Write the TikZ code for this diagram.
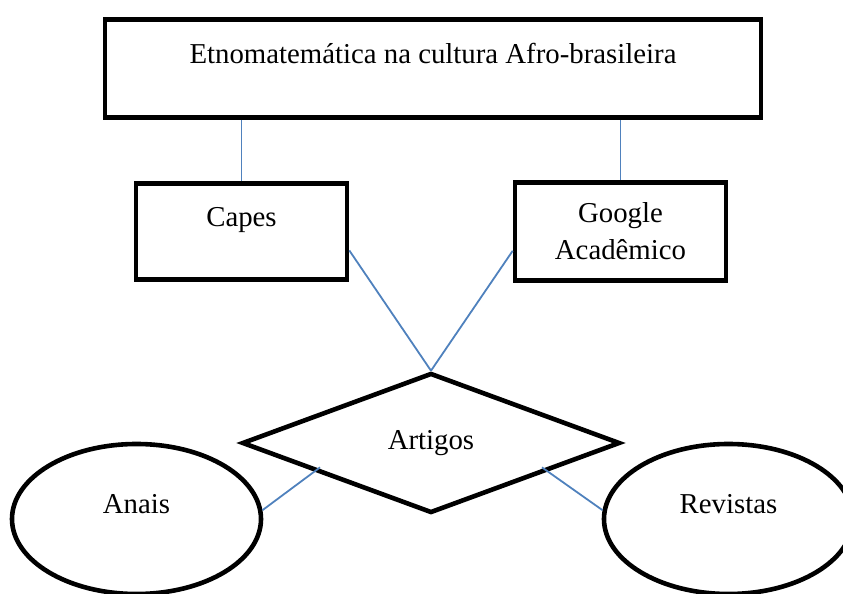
\documentclass[tikz,border=0pt]{standalone}
\usepackage{fontspec}
\setmainfont{Liberation Serif}
\usetikzlibrary{positioning,calc}
\usetikzlibrary{shapes.geometric}
\definecolor{linkblue}{RGB}{79,129,189}

\begin{document}
\begin{tikzpicture}[x=0.5pt,y=-0.5pt,
        every node/.style={font=\fontsize{14.4}{18.5}\selectfont},
        box/.style={draw, rectangle, line width=2.3pt, minimum width=105.5pt, minimum height=48pt},
        rel/.style={draw, diamond, line width=2.3pt, minimum width=189pt, minimum height=70pt, inner sep=0pt},
        src/.style={draw, ellipse, line width=2.3pt, minimum width=124.5pt, minimum height=75pt, text height=10pt, text depth=16pt},
        link/.style={draw=linkblue, line width=0.9pt}]
        \useasboundingbox (0,0) rectangle (843,594);
        % Theme
        \node[box, anchor=north, minimum width=328pt, minimum height=49pt,
              inner ysep=0pt, text height=22pt, text depth=27pt] (tema) at (433,17)
              {Etnomatemática na cultura Afro-brasileira};
        % Databases
        \node[box, anchor=north, inner ysep=0pt, text height=21.5pt, text depth=26.5pt]
              (capes) at (241.5,181) {Capes};
        \node[box, anchor=north, minimum height=49pt, align=center]
              (google) at (620.5,180) {Google\\Acadêmico};
        % Diamond and ellipses
        \node[rel] (artigos) at (431,443) {Artigos};
        \node[src] (anais) at (136.5,519) {Anais};
        \node[src] (revistas) at (728.5,519) {Revistas};
        % Connectors
        \foreach \b in {capes, google}
            \draw[link] (\b.north) -- (\b.north |- tema.south);
        \draw[link] ($(capes.north east)!0.69!(capes.south east)$) -- (artigos.north);
        \draw[link] ($(google.north west)!0.69!(google.south west)$) -- (artigos.north);
        \draw[link] ($(artigos.west)!0.42!(artigos.south)+(0,-6)$) -- (anais.4);
        \draw[link] ($(artigos.east)!0.42!(artigos.south)+(0,-6)$) -- (revistas.176);
    \end{tikzpicture}
\end{document}
